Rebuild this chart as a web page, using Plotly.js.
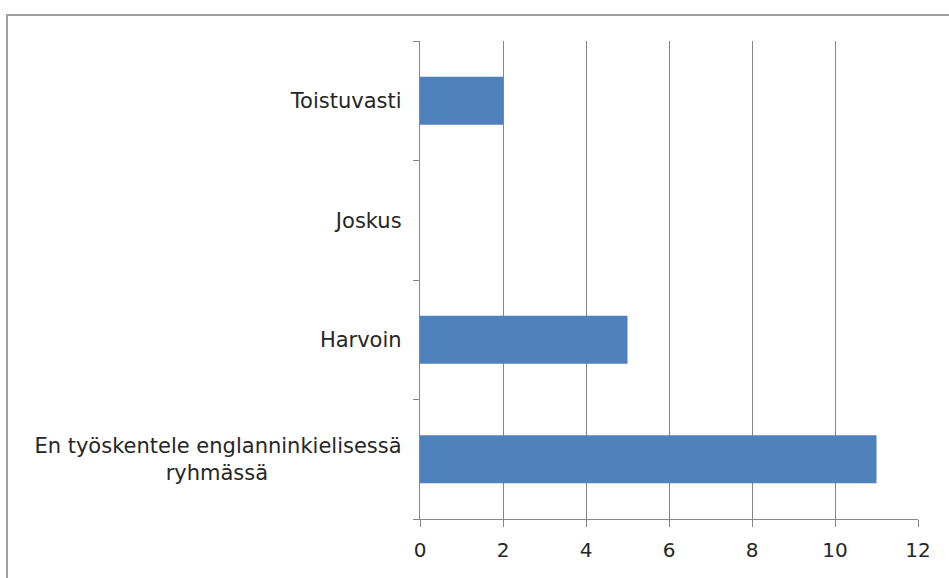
<!DOCTYPE html>
<html>
<head>
<meta charset="utf-8">
<script src="https://cdn.plot.ly/plotly-3.0.1.min.js"></script>
<style>
  html, body { margin: 0; padding: 0; background: #fff; overflow: hidden; }
  #frame { position: absolute; left: 6px; top: 14px; width: 1000px; height: 700px; border: 2px solid #a0a0a0; box-sizing: border-box; }
  #chart { position: absolute; left: 0; top: 0; width: 949px; height: 578px; }
</style>
</head>
<body>
<div id="frame"></div>
<div id="chart"></div>
<script>
const categories = [
  "En työskentele englanninkielisessä<br>ryhmässä\u00A0\u00A0\u00A0\u00A0\u00A0\u00A0\u00A0\u00A0\u00A0\u00A0\u00A0\u00A0\u00A0\u00A0\u00A0\u00A0\u00A0\u00A0\u00A0\u00A0",
  "Harvoin",
  "Joskus",
  "Toistuvasti"
];
const values = [11, 5, 0, 2];
const xTickValues = [0, 2, 4, 6, 8, 10, 12];

const trace = {
  type: "bar",
  orientation: "h",
  y: categories,
  x: values,
  marker: { color: "#4F81BD", line: { width: 0 } },
  width: 0.4,
  hoverinfo: "x+y"
};

const layout = {
  width: 949,
  height: 578,
  margin: { l: 420, r: 31, t: 41, b: 59 },
  paper_bgcolor: "rgba(0,0,0,0)",
  plot_bgcolor: "rgba(0,0,0,0)",
  showlegend: false,
  font: { family: "DejaVu Sans, sans-serif", size: 21, color: "#262626" },
  xaxis: {
    range: [0, 12],
    tickvals: xTickValues,
    ticktext: xTickValues.map(String),
    showgrid: true,
    gridcolor: "#878787",
    gridwidth: 1,
    zeroline: false,
    showline: true,
    linecolor: "#878787",
    linewidth: 1.2,
    ticks: "outside",
    ticklen: 7,
    tickcolor: "#878787",
    tickwidth: 1,
    ticklabelstandoff: 6,
    tickfont: { size: 20, color: "#262626" },
    fixedrange: true
  },
  yaxis: {
    type: "category",
    categoryorder: "array",
    categoryarray: categories,
    range: [-0.5, 3.5],
    tickson: "boundaries",
    ticks: "outside",
    ticklen: 6,
    tickcolor: "#878787",
    tickwidth: 1,
    showgrid: false,
    showline: true,
    linecolor: "#878787",
    linewidth: 1.2,
    zeroline: false,
    ticklabelstandoff: 13,
    tickfont: { size: 21, color: "#262626" },
    fixedrange: true
  }
};

Plotly.newPlot("chart", [trace], layout, { displayModeBar: false, staticPlot: true });
</script>
</body>
</html>
